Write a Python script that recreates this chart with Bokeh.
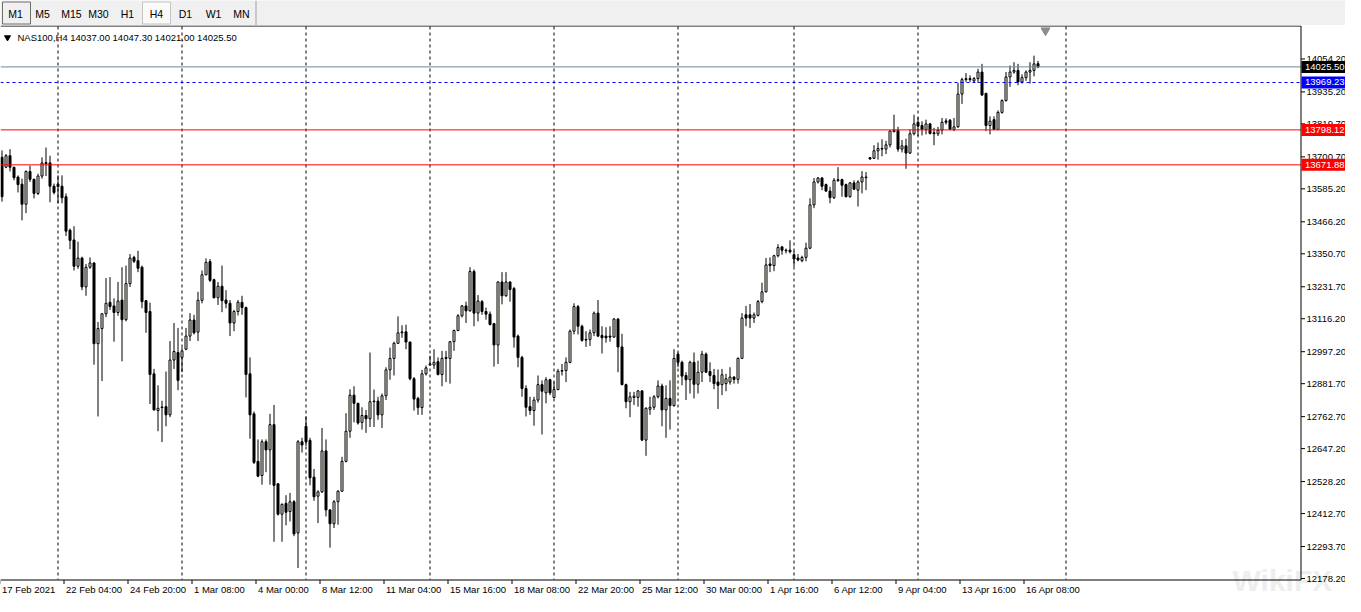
import numpy as np
from bokeh.plotting import figure
from bokeh.layouts import column
from bokeh.models import Range1d, ColumnDataSource
from bokeh.core.properties import value
from bokeh.embed import file_html
from bokeh.resources import INLINE

FONT = "Liberation Sans"
FS = "9.5px"

# ---------------- data (NAS100, H4) ----------------
opens = [
 13699.0,13663.4,13704.8,13663.4,13627.8,13601.8,13529.6,13648.0,13619.6,13568.6,
 13631.4,13676.4,13678.8,13594.7,13601.8,13594.7,13556.8,13436.0,13400.5,13305.7,
 13335.3,13231.1,13302.2,13317.6,13026.2,13080.7,13134.0,13175.4,13162.4,13138.7,
 13183.7,13112.7,13243.0,13337.7,13325.9,13302.2,13181.4,13142.3,12917.3,12784.6,
 12797.6,12798.8,12769.2,12967.0,12994.3,12976.5,13006.1,13053.5,13111.5,13067.7,
 13182.6,13274.9,13322.3,13257.1,13192.0,13233.5,13183.7,13171.9,13100.8,13142.3,
 13175.4,13156.5,12917.3,12772.8,12601.1,12550.2,12672.1,12642.5,12733.7,12520.5,
 12410.4,12449.5,12419.9,12455.4,12342.9,12672.1,12727.8,12676.9,12544.2,12475.5,
 12490.9,12639.0,12425.8,12376.0,12455.4,12493.3,12601.1,12710.0,12840.3,12810.7,
 12742.0,12766.8,12755.0,12816.6,12819.0,12769.2,12837.9,12931.5,12972.9,13027.4,
 13065.3,13068.8,13032.1,12899.5,12828.4,12795.3,12917.3,12949.2,12949.2,12961.1,
 12914.9,12976.5,12972.9,13033.3,13073.6,13126.9,13162.4,13144.6,13286.8,13136.4,
 13177.8,13142.3,13132.8,13098.5,13021.5,13248.9,13199.1,13248.9,13225.2,13053.4,
 12976.5,12864.0,12798.8,12784.6,12822.5,12878.2,12848.6,12895.9,12832.0,12860.4,
 12926.7,12929.1,12958.7,13071.2,13160.0,13089.0,13039.2,13041.6,13065.3,13136.4,
 13055.8,13053.4,13053.4,13049.9,13115.0,13014.4,12878.2,12816.6,12832.0,12832.0,
 12855.7,12678.0,12789.3,12796.5,12834.4,12873.4,12787.0,12828.4,12802.4,12988.3,
 12958.7,12911.3,12895.9,12958.7,12879.4,12923.2,12988.4,12925.6,12911.4,12887.7,
 12878.2,12881.8,12887.7,12905.4,12897.2,12973.0,13130.5,13130.5,13118.6,13128.1,
 13177.9,13213.4,13314.0,13308.1,13343.7,13375.6,13361.4,13363.8,13347.2,13335.4,
 13325.9,13337.7,13370.9,13527.2,13610.1,13624.3,13600.6,13577.0,13553.3,13614.9,
 13618.4,13600.6,13556.8,13606.6,13580.5,13610.1,13625.5,13697.8,13695.4,13722.6,
 13728.6,13728.6,13743.9,13791.3,13796.1,13728.6,13740.4,13714.3,13784.2,13825.7,
 13813.8,13799.6,13819.7,13787.8,13784.2,13797.2,13830.4,13832.8,13799.6,13809.1,
 13927.5,13979.6,13983.2,13974.9,13983.2,14006.9,13929.9,13813.8,13835.1,13799.6,
 13861.2,13903.8,13989.1,14006.9,14012.8,13971.3,13986.7,14006.9,14012.8,14037.0,
]
highs = [
 13723.8,13710.7,13728.5,13663.4,13633.8,13621.9,13651.5,13669.3,13621.9,13639.7,
 13698.9,13734.4,13704.8,13604.2,13633.8,13633.8,13568.6,13441.9,13450.2,13394.5,
 13340.1,13314.0,13337.7,13320.0,13104.4,13136.4,13263.1,13266.6,13189.6,13248.9,
 13302.2,13308.1,13349.6,13343.6,13361.4,13308.1,13183.7,13174.3,12935.0,12875.8,
 12820.2,12925.6,13035.7,13100.8,13083.1,13012.0,13083.1,13136.4,13130.4,13213.3,
 13290.3,13334.1,13331.8,13260.7,13248.9,13308.1,13219.3,13183.7,13148.2,13183.7,
 13199.1,13160.1,12976.5,12781.1,12680.4,12680.4,12680.4,12772.8,12804.8,12520.5,
 12449.5,12479.1,12487.4,12461.3,12678.1,12686.3,12763.3,12686.3,12573.8,12496.9,
 12721.9,12680.4,12428.1,12461.3,12496.9,12617.6,12775.1,12861.6,12872.2,12813.0,
 12796.5,12787.0,12994.2,12860.4,12834.4,12846.2,12940.9,13012.0,13033.3,13124.5,
 13092.5,13094.9,13033.3,12905.4,12834.4,12931.5,12946.9,12982.4,13006.1,12976.5,
 13000.2,13000.2,13035.7,13077.1,13132.8,13166.0,13177.8,13302.2,13293.9,13201.5,
 13183.7,13156.5,13142.3,13100.8,13251.2,13284.4,13284.4,13251.2,13231.1,13059.4,
 12982.4,12875.8,12834.4,12834.4,12911.3,12893.6,12905.4,12899.5,12887.6,12935.0,
 12952.8,12976.5,13077.1,13171.9,13166.0,13094.9,13071.2,13077.1,13142.3,13183.7,
 13089.0,13085.4,13089.0,13118.6,13118.6,13061.7,12881.7,12852.1,12852.1,12858.1,
 12858.1,12796.5,12834.4,12840.3,12893.6,12881.7,12875.8,12893.6,13006.1,12994.2,
 12964.6,12923.2,12964.6,12994.2,12964.6,13000.2,12994.3,12958.8,12935.1,12932.7,
 12935.1,12917.3,12941.0,12909.0,12976.5,13136.4,13162.5,13169.6,13138.8,13183.8,
 13246.5,13335.4,13337.7,13347.2,13385.1,13379.2,13369.7,13399.3,13361.4,13349.6,
 13343.7,13391.0,13550.9,13624.3,13627.9,13627.9,13604.2,13592.4,13624.3,13663.4,
 13621.9,13604.2,13610.1,13616.0,13616.0,13649.2,13645.7,13700.1,13742.8,13752.2,
 13764.1,13758.2,13797.2,13852.9,13809.1,13761.7,13766.5,13799.6,13852.9,13843.4,
 13829.2,13835.1,13823.3,13805.5,13809.1,13841.1,13839.9,13837.5,13841.1,13967.8,
 13986.7,14003.3,13995.0,13989.1,14018.7,14036.5,13932.3,13847.0,13847.0,13868.3,
 13908.6,14006.9,14030.5,14042.4,14036.5,13998.6,14012.8,14042.4,14066.1,14047.3,
]
lows = [
 13539.0,13659.8,13648.0,13616.0,13572.2,13471.5,13497.6,13610.1,13550.9,13562.7,
 13621.9,13631.4,13536.7,13565.1,13533.1,13533.1,13414.7,13367.3,13290.3,13296.2,
 13219.3,13199.1,13296.2,12950.4,12763.3,12891.2,13122.1,13148.2,13033.3,13126.9,
 12962.3,13106.8,13231.1,13317.6,13284.4,13154.1,13065.3,12808.3,12784.6,12710.0,
 12670.9,12727.8,12760.9,12935.0,12858.1,12923.2,13002.5,13035.7,13059.4,13035.7,
 13171.9,13272.6,13248.9,13189.6,13166.0,13139.9,13154.1,13053.5,13071.2,13128.1,
 13130.4,12832.0,12682.8,12591.6,12544.2,12517.0,12562.0,12517.0,12310.9,12405.7,
 12310.9,12370.1,12384.3,12331.0,12216.2,12633.1,12656.7,12514.6,12458.9,12378.4,
 12487.4,12402.1,12289.6,12360.6,12372.5,12490.9,12597.5,12686.3,12742.0,12733.7,
 12715.9,12704.1,12725.4,12725.4,12751.4,12721.9,12822.5,12895.9,12911.3,13026.2,
 13047.5,13006.1,12893.6,12784.6,12769.2,12769.2,12911.3,12946.9,12935.0,12911.3,
 12872.2,12887.6,12881.7,13000.2,13071.2,13121.0,13100.8,13142.3,13089.0,13106.7,
 13130.4,13112.7,13092.5,12943.3,12952.8,13168.3,13195.6,13177.8,13012.0,12940.9,
 12834.4,12763.3,12769.2,12730.1,12813.0,12698.2,12810.7,12840.3,12828.4,12858.1,
 12911.3,12887.6,12955.2,13059.4,13059.4,13033.3,13014.4,13017.9,13053.4,13049.9,
 12990.7,13029.8,13033.3,13047.5,12923.2,12875.8,12792.9,12760.9,12804.7,12798.8,
 12674.5,12621.2,12769.2,12787.0,12828.4,12727.8,12686.3,12715.9,12798.8,12940.9,
 12875.8,12822.5,12846.2,12828.4,12846.2,12887.7,12920.9,12887.7,12861.7,12790.6,
 12840.3,12854.5,12878.2,12881.8,12881.8,12970.6,13089.0,13083.1,13100.9,13124.6,
 13171.9,13211.0,13284.4,13288.0,13337.7,13347.2,13351.9,13351.9,13304.6,13323.5,
 13320.0,13323.5,13367.4,13515.4,13604.2,13580.5,13574.6,13533.1,13548.5,13610.1,
 13556.8,13554.5,13553.3,13580.5,13521.3,13568.7,13580.5,13690.7,13693.0,13690.7,
 13702.5,13710.8,13734.5,13790.1,13719.1,13716.7,13657.5,13710.8,13778.3,13775.9,
 13778.3,13781.8,13781.8,13742.8,13775.9,13781.8,13817.4,13797.2,13793.7,13805.5,
 13892.0,13971.3,13971.3,13967.8,13967.8,13920.4,13793.7,13781.8,13797.2,13797.2,
 13856.5,13900.3,13953.6,14000.9,13959.5,13965.4,13974.9,13965.4,13991.5,14021.0,
]
closes = [
 13556.8,13704.8,13663.4,13625.5,13600.6,13529.6,13648.0,13619.6,13568.6,13631.4,
 13678.8,13680.0,13594.7,13572.2,13593.5,13553.2,13432.4,13399.3,13305.7,13335.3,
 13231.1,13302.2,13317.6,13026.2,13080.7,13134.0,13171.9,13160.1,13138.7,13180.2,
 13112.7,13243.0,13335.3,13323.5,13298.6,13177.8,13138.7,12914.9,12787.0,12792.9,
 12795.3,12769.2,12967.0,12997.8,12893.6,13000.2,13053.5,13111.5,13065.3,13182.6,
 13274.9,13319.9,13254.8,13192.0,13233.5,13181.4,13171.9,13100.8,13142.3,13175.4,
 13156.5,12914.9,12769.2,12597.5,12547.8,12672.1,12642.5,12733.7,12514.6,12410.4,
 12445.9,12417.5,12455.4,12339.3,12672.1,12660.3,12672.1,12541.9,12473.2,12490.9,
 12639.0,12425.8,12376.0,12455.4,12493.3,12601.1,12710.0,12840.3,12810.7,12739.6,
 12766.8,12755.0,12816.6,12819.0,12769.2,12837.9,12931.5,12972.9,13027.4,13065.3,
 13068.8,13032.1,12899.5,12826.1,12795.3,12917.3,12938.6,12952.8,12958.7,12914.9,
 12972.9,12972.9,13033.3,13073.6,13126.9,13162.4,13144.6,13286.8,13136.4,13180.2,
 13142.3,13132.8,13094.9,13021.5,13248.9,13199.1,13248.9,13221.6,13049.9,12976.5,
 12864.0,12796.5,12784.6,12822.5,12878.2,12854.5,12895.9,12848.6,12860.4,12926.7,
 12929.1,12958.7,13071.2,13160.0,13089.0,13038.1,13041.6,13065.3,13136.4,13053.4,
 13047.5,13047.5,13049.9,13115.0,13014.4,12878.2,12816.6,12834.4,12836.7,12855.7,
 12678.0,12792.9,12796.5,12834.4,12873.4,12787.0,12828.4,12802.4,12972.9,12958.7,
 12909.0,12895.9,12958.7,12879.4,12923.2,12988.4,12923.2,12911.4,12881.8,12875.9,
 12913.8,12899.5,12905.4,12897.2,12973.0,13118.6,13118.6,13118.6,13130.5,13177.9,
 13213.4,13310.5,13308.1,13343.7,13373.3,13363.8,13363.8,13357.9,13331.8,13328.3,
 13337.7,13370.9,13527.2,13610.1,13624.3,13594.7,13577.0,13553.3,13616.0,13618.4,
 13598.3,13556.8,13606.6,13584.1,13610.1,13627.9,13627.9,13693.0,13722.6,13730.9,
 13730.9,13743.9,13793.7,13796.1,13728.6,13740.4,13714.3,13784.2,13819.7,13811.5,
 13799.6,13819.7,13785.4,13784.2,13797.2,13825.7,13825.7,13799.6,13809.1,13927.5,
 13979.6,13983.2,13979.6,13983.2,14006.9,13924.0,13813.8,13829.2,13799.6,13861.2,
 13903.8,13989.1,14006.9,14012.8,13971.3,13986.7,14006.9,14012.8,14036.5,14025.5,
]

price_ticks = [14054.2, 13935.2, 13819.7, 13700.7, 13585.2, 13466.2, 13350.7, 13231.7,
               13116.2, 12997.2, 12881.7, 12762.7, 12647.2, 12528.2, 12412.7, 12293.7, 12178.2]
time_tick_bars = [0, 16, 32, 48, 64, 80, 96, 112, 128, 144, 160, 176, 192, 208, 224, 240, 256]
time_tick_labels = ["17 Feb 2021", "22 Feb 04:00", "24 Feb 20:00", "1 Mar 08:00", "4 Mar 00:00",
                    "8 Mar 12:00", "11 Mar 04:00", "15 Mar 16:00", "18 Mar 08:00", "22 Mar 20:00",
                    "25 Mar 12:00", "30 Mar 00:00", "1 Apr 16:00", "6 Apr 12:00", "9 Apr 04:00",
                    "13 Apr 16:00", "16 Apr 08:00"]
week_separators = [14, 45, 76, 107, 138, 169, 198, 229, 266]
level_prices = [14025.50, 13969.23, 13798.12, 13671.88]
level_colors = ["#778899", "#0000ff", "#ff0000", "#ff0000"]
level_dashes = ["solid", "3 3", "solid", "solid"]
tag_fills = ["#000000", "#0000ff", "#ff0000", "#ff0000"]
periods = ["M1", "M5", "M15", "M30", "H1", "H4", "D1", "W1", "MN"]

n = len(opens)
assert len(highs) == n and len(lows) == n and len(closes) == n

# ---------------- layout helpers (pixel -> data), layout only ----------------
W, H = 1345, 571
Y_TOP = 14175.0       # price at the top edge of the chart figure
K = 3.6108            # price units per pixel


def X(px):
    return (px - 1.5) / 4.0


def Y(py):
    return Y_TOP - py * K


AX = 1300.5   # price axis line (px)
BOT = 554.5   # bottom border line (px)

o = np.array(opens); c = np.array(closes)
h = np.maximum(np.array(highs), np.maximum(o, c))
l = np.minimum(np.array(lows), np.minimum(o, c))
bull = c >= o
src = ColumnDataSource(dict(
    x=np.arange(n), h=h, l=l,
    top=np.maximum(o, c), bot=np.minimum(o, c),
    fill=["#f7f7e6" if b else "#000000" for b in bull],
))

p = figure(width=W, height=H, x_range=Range1d(X(0), X(W)), y_range=Range1d(Y(H), Y(0)),
           output_backend="svg", toolbar_location=None, x_axis_type=None, y_axis_type=None,
           min_border=0)
p.outline_line_color = None
p.background_fill_color = "white"
p.border_fill_color = "white"

# watermark (faint)
p.text(x=[X(1232)], y=[Y(571)], text=["WikiFX"], text_align="left", text_baseline="bottom",
       text_font=value(FONT), text_font_size=value("30px"), text_font_style="bold",
       text_color="#eeeeee")

# weekly period separators
p.segment(x0=week_separators, y0=Y(1), x1=week_separators, y1=Y(BOT - 0.5),
          line_color="black", line_dash="3 3", line_width=1)

# candles
p.segment(x0="x", y0="h", x1="x", y1="l", line_color="black", line_width=1, source=src)
p.vbar(x="x", width=0.5, top="top", bottom="bot", fill_color="fill",
       line_color="black", line_width=1, source=src)

# horizontal price levels
for lp, lc, ld in zip(level_prices, level_colors, level_dashes):
    p.segment(x0=[X(0)], y0=[lp], x1=[X(AX)], y1=[lp], line_color=lc, line_dash=ld, line_width=1)

# chart border (top, bottom, right)
p.segment(x0=[X(0), X(0), X(AX)], y0=[Y(0.5), Y(BOT), Y(0.5)],
          x1=[X(AX), X(AX), X(AX)], y1=[Y(0.5), Y(BOT), Y(BOT)],
          line_color="black", line_width=1)

# price axis: ticks + labels
p.segment(x0=[X(AX)] * len(price_ticks), y0=price_ticks, x1=[X(AX + 4)] * len(price_ticks),
          y1=price_ticks, line_color="black", line_width=1)
p.text(x=[X(AX + 5.5)] * len(price_ticks), y=price_ticks, text=[f"{v:.2f}" for v in price_ticks],
       text_align="left", text_baseline="middle", text_font=value(FONT),
       text_font_size=value(FS), text_color="black")

# price tags of the levels
p.quad(left=[X(AX + 0.5)] * 4, right=[X(W)] * 4,
       top=[lp + 6 * K for lp in level_prices], bottom=[lp - 6 * K for lp in level_prices],
       fill_color=tag_fills, line_color=None)
p.text(x=[X(AX + 4)] * 4, y=level_prices, text=[f"{v:.2f}" for v in level_prices],
       text_align="left", text_baseline="middle", text_font=value(FONT),
       text_font_size=value(FS), text_color="white")

# time axis: ticks + left-aligned labels
p.segment(x0=[b - 0.5 for b in time_tick_bars], y0=Y(BOT), x1=[b - 0.5 for b in time_tick_bars],
          y1=Y(BOT + 4), line_color="black", line_width=1)
p.text(x=time_tick_bars, y=[Y(BOT + 4)] * len(time_tick_bars), text=time_tick_labels,
       text_align="left", text_baseline="top", text_font=value(FONT),
       text_font_size=value(FS), text_color="black")

# header
p.scatter(x=[X(7)], y=[Y(12)], marker="inverted_triangle", size=6, color="black")
p.text(x=[X(17)], y=[Y(12)],
       text=[f"NAS100,H4  {opens[-1]:.2f} {highs[-1]:.2f} {lows[-1]:.2f} {closes[-1]:.2f}"],
       text_align="left", text_baseline="middle", text_font=value(FONT),
       text_font_size=value(FS), text_color="black")

# chart shift marker
p.scatter(x=[X(1045)], y=[Y(5)], marker="inverted_triangle", size=9, color="#8c8c8c")

# ---------------- period toolbar ----------------
tb = figure(width=W, height=25, x_range=Range1d(0, W), y_range=Range1d(25, 0),
            output_backend="svg", toolbar_location=None, x_axis_type=None, y_axis_type=None,
            min_border=0)
tb.outline_line_color = None
tb.background_fill_color = "#f0f0f0"
tb.border_fill_color = "#f0f0f0"
tb.quad(left=[2, 142], right=[30, 170], top=[1.5, 1.5], bottom=[23.5, 23.5],
        fill_color=["#f0f0f0", "#fafafa"], line_color=["#6e6e6e", "#c4c4c4"], line_width=1)
tb.text(x=[15, 42, 71, 98, 127, 156, 185, 213, 241], y=[13] * 9, text=periods,
        text_align="center", text_baseline="middle", text_font=value(FONT),
        text_font_size=value("10.5px"), text_color="black")
tb.segment(x0=[255.5], y0=[0], x1=[255.5], y1=[25], line_color="#a0a0a0", line_width=1)

layout = column(tb, p, spacing=0)
open("out.html", "w").write(file_html(layout, INLINE))
